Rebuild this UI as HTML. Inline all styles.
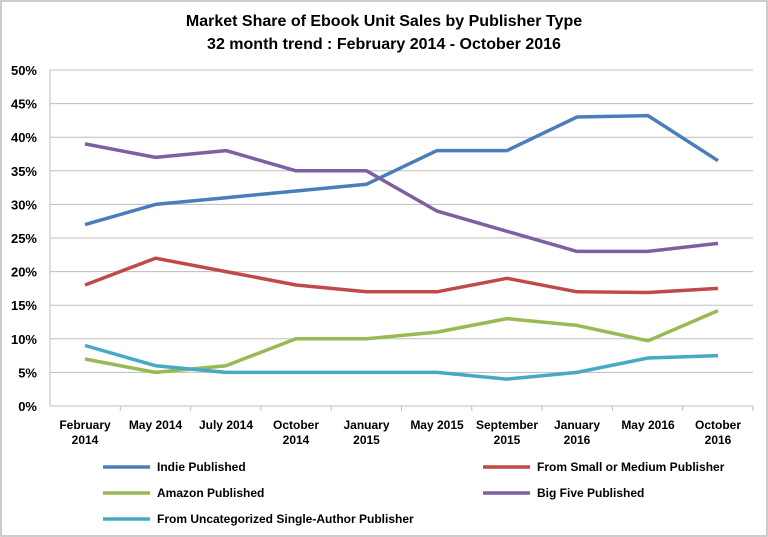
<!DOCTYPE html><html><head><style>body{margin:0;background:#fff}svg{display:block}text{font-family:"Liberation Sans",sans-serif;font-weight:bold;fill:#000}</style></head><body>
<svg width="768" height="537" xmlns="http://www.w3.org/2000/svg">
<rect x="1" y="1" width="766" height="535" fill="#fff" stroke="#bbb" stroke-width="1.5"/>
<text x="384" y="26" font-size="16" text-anchor="middle">Market Share of Ebook Unit Sales by Publisher Type</text>
<text x="384" y="49" font-size="16" text-anchor="middle">32 month trend : February 2014 - October 2016</text>
<g stroke="#bdbdbd" stroke-width="1">
<line x1="50" y1="70" x2="753" y2="70"/><line x1="50" y1="103.6" x2="753" y2="103.6"/><line x1="50" y1="137.2" x2="753" y2="137.2"/><line x1="50" y1="170.8" x2="753" y2="170.8"/><line x1="50" y1="204.4" x2="753" y2="204.4"/><line x1="50" y1="238" x2="753" y2="238"/><line x1="50" y1="271.6" x2="753" y2="271.6"/><line x1="50" y1="305.2" x2="753" y2="305.2"/><line x1="50" y1="338.8" x2="753" y2="338.8"/><line x1="50" y1="372.4" x2="753" y2="372.4"/><line x1="50" y1="406" x2="753" y2="406"/>
<line x1="50" y1="70" x2="50" y2="406"/>
<line x1="120.3" y1="406" x2="120.3" y2="411"/><line x1="190.6" y1="406" x2="190.6" y2="411"/><line x1="260.9" y1="406" x2="260.9" y2="411"/><line x1="331.2" y1="406" x2="331.2" y2="411"/><line x1="401.5" y1="406" x2="401.5" y2="411"/><line x1="471.8" y1="406" x2="471.8" y2="411"/><line x1="542.1" y1="406" x2="542.1" y2="411"/><line x1="612.4" y1="406" x2="612.4" y2="411"/><line x1="682.7" y1="406" x2="682.7" y2="411"/><line x1="753" y1="406" x2="753" y2="411"/>
</g>
<g font-size="13" text-anchor="end">
<text x="37" y="75">50%</text><text x="37" y="108.6">45%</text><text x="37" y="142.2">40%</text><text x="37" y="175.8">35%</text><text x="37" y="209.4">30%</text><text x="37" y="243">25%</text><text x="37" y="276.6">20%</text><text x="37" y="310.2">15%</text><text x="37" y="343.8">10%</text><text x="37" y="377.4">5%</text><text x="37" y="411">0%</text>
</g>
<g font-size="12" text-anchor="middle">
<text x="85" y="429">February</text><text x="85" y="444">2014</text>
<text x="155.5" y="429">May 2014</text>
<text x="226" y="429">July 2014</text>
<text x="296" y="429">October</text><text x="296" y="444">2014</text>
<text x="366.5" y="429">January</text><text x="366.5" y="444">2015</text>
<text x="437" y="429">May 2015</text>
<text x="507" y="429">September</text><text x="507" y="444">2015</text>
<text x="577" y="429">January</text><text x="577" y="444">2016</text>
<text x="648" y="429">May 2016</text>
<text x="718" y="429">October</text><text x="718" y="444">2016</text>
</g>
<g fill="none" stroke-width="3.5" stroke-linejoin="round">
<polyline stroke="#4a7ebb" points="85,224.6 155.5,204.4 226,197.7 296,191 366.5,184.2 437,150.6 507,150.6 577,117 648,115.6 718,160.7"/>
<polyline stroke="#be4b48" points="85,285 155.5,258.2 226,271.6 296,285 366.5,291.8 437,291.8 507,278.3 577,291.8 648,292.5 718,288.4"/>
<polyline stroke="#98b954" points="85,359 155.5,372.4 226,365.7 296,338.8 366.5,338.8 437,332.1 507,318.6 577,325.4 648,340.8 718,310.6"/>
<polyline stroke="#7d60a0" points="85,143.9 155.5,157.4 226,150.6 296,170.8 366.5,170.8 437,211.1 507,231.3 577,251.4 648,251.4 718,243.4"/>
<polyline stroke="#46aac5" points="85,345.5 155.5,365.7 226,372.4 296,372.4 366.5,372.4 437,372.4 507,379.1 577,372.4 648,358 718,355.6"/>
<line stroke="#4a7ebb" x1="103" y1="467" x2="150" y2="467"/>
<line stroke="#be4b48" x1="483" y1="467" x2="530" y2="467"/>
<line stroke="#98b954" x1="103" y1="493" x2="150" y2="493"/>
<line stroke="#7d60a0" x1="483" y1="493" x2="530" y2="493"/>
<line stroke="#46aac5" x1="103" y1="519" x2="150" y2="519"/>
</g>
<g font-size="12">
<text x="157" y="471">Indie Published</text>
<text x="537" y="471">From Small or Medium Publisher</text>
<text x="157" y="497">Amazon Published</text>
<text x="537" y="497">Big Five Published</text>
<text x="157" y="523">From Uncategorized Single-Author Publisher</text>
</g>
</svg>
</body></html>
